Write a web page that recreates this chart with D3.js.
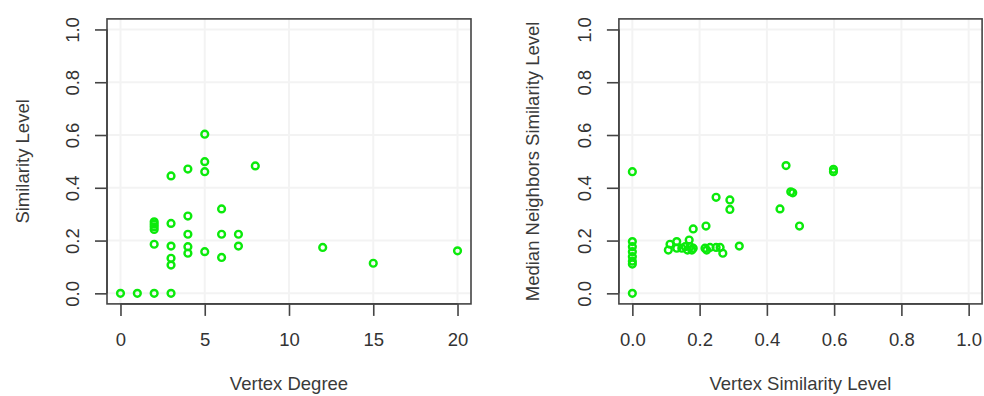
<!DOCTYPE html>
<html><head><meta charset="utf-8">
<script src="https://cdn.jsdelivr.net/npm/d3@7"></script>
<style>body{margin:0;background:#fff}svg{display:block}text{font-family:"Liberation Sans",Arial,sans-serif;fill:#333}</style>
</head><body>
<svg id="c" width="984" height="396"></svg>
<script>
// Left panel: vertex degree vs similarity level
const degreeX = [0,1,2,3, 2,2,2,2,2, 3,3,3,3,3, 4,4,4,4,4, 5,5,5,5, 6,6,6, 7,7, 8, 12, 15, 20];
const degreeY = [0,0,0,0, 0.271,0.262,0.252,0.242,0.186, 0.445,0.265,0.179,0.133,0.107, 0.471,0.293,0.224,0.177,0.152, 0.603,0.499,0.461,0.158, 0.320,0.224,0.136, 0.224,0.179, 0.483, 0.174, 0.114, 0.161];
// Right panel: vertex similarity vs median neighbours similarity
const simX = [0,0,0,0,0,0,0,0,
  0.107,0.112,0.132,0.132,0.147,0.157,0.164,0.169,0.172,0.177,0.181,0.181,
  0.219,0.216,0.221,0.231,0.249,0.261,0.269,0.318,
  0.249,0.290,0.290,0.439,0.457,0.471,0.477,0.497,0.598,0.598];
const simY = [0.461,0.196,0.177,0.158,0.139,0.122,0.111,0,
  0.164,0.186,0.196,0.171,0.171,0.177,0.164,0.202,0.177,0.164,0.171,0.244,
  0.255,0.171,0.164,0.174,0.174,0.174,0.152,0.179,
  0.364,0.354,0.318,0.320,0.484,0.385,0.381,0.255,0.470,0.461];
const leftTicksX = [0,5,10,15,20];
const rightTicksX = [0,0.2,0.4,0.6,0.8,1.0];
const ticksY = [0,0.2,0.4,0.6,0.8,1.0];

const svg = d3.select("#c");
svg.append("rect").attr("width",984).attr("height",396).attr("fill","#fff");

function panel(o){
  const x = d3.scaleLinear().domain(o.xdom).range([o.left,o.right]);
  const y = d3.scaleLinear().domain([-0.04,1.04]).range([o.bottom,o.top]);
  const g = svg.append("g");
  // faint grid
  g.selectAll(".gx").data(o.xticks).join("line")
    .attr("x1",d=>x(d)).attr("x2",d=>x(d)).attr("y1",o.top).attr("y2",o.bottom)
    .attr("stroke","#f3f3f3").attr("stroke-width",2);
  g.selectAll(".gy").data(ticksY).join("line")
    .attr("y1",d=>y(d)).attr("y2",d=>y(d)).attr("x1",o.left).attr("x2",o.right)
    .attr("stroke","#f3f3f3").attr("stroke-width",2);
  // points
  g.selectAll("circle").data(o.xs.map((v,i)=>[v,o.ys[i]])).join("circle")
    .attr("cx",d=>x(d[0])).attr("cy",d=>y(d[1])).attr("r",3.4)
    .attr("fill","none").attr("stroke","#0bea0b").attr("stroke-width",2.4);
  // box
  g.append("rect").attr("x",o.left).attr("y",o.top).attr("width",o.right-o.left).attr("height",o.bottom-o.top)
    .attr("fill","none").attr("stroke","#444").attr("stroke-width",1.6);
  // axes
  const fmt = o.xfmt;
  const ax = d3.axisBottom(x).tickValues(o.xticks).tickSize(12).tickPadding(6).tickFormat(fmt);
  const gx = g.append("g").attr("transform",`translate(0,${o.bottom})`).call(ax);
  gx.select(".domain").attr("d",`M${x(o.xticks[0])},0H${x(o.xticks[o.xticks.length-1])}`).attr("stroke","#444").attr("stroke-width",1.6);
  gx.selectAll(".tick line").attr("stroke","#444").attr("stroke-width",1.6);
  gx.selectAll(".tick text").attr("y",null).attr("dy",null).attr("transform","translate(0,42)").attr("font-size",18.5).style("fill","#333");
  const ay = d3.axisLeft(y).tickValues(ticksY).tickSize(12).tickFormat(d3.format(".1f"));
  const gy = g.append("g").attr("transform",`translate(${o.left},0)`).call(ay);
  gy.select(".domain").attr("d",`M0,${y(0)}V${y(1)}`).attr("stroke","#444").attr("stroke-width",1.6);
  gy.selectAll(".tick line").attr("stroke","#444").attr("stroke-width",1.6);
  gy.selectAll(".tick text").attr("x",null).attr("dy",null).attr("text-anchor","middle")
    .attr("transform","translate(-28,0) rotate(-90)").attr("font-size",18.5).style("fill","#333");
  // titles
  svg.append("text").attr("x",(o.left+o.right)/2).attr("y",390).attr("text-anchor","middle")
    .attr("font-size",18.5).style("fill","#3a3a3a").text(o.xtitle);
  svg.append("text").attr("transform",`translate(${o.ytx},${(o.top+o.bottom)/2}) rotate(-90)`)
    .attr("text-anchor","middle").attr("font-size",18.5).style("fill","#3a3a3a").text(o.ytitle);
}

panel({left:107,right:471,top:18.9,bottom:303.9,xdom:[-0.8,20.8],xticks:leftTicksX,xfmt:d3.format("d"),
  xs:degreeX,ys:degreeY,xtitle:"Vertex Degree",ytitle:"Similarity Level",ytx:29});
panel({left:618.9,right:982.1,top:18.9,bottom:303.9,xdom:[-0.04,1.04],xticks:rightTicksX,xfmt:d3.format(".1f"),
  xs:simX,ys:simY,xtitle:"Vertex Similarity Level",ytitle:"Median Neighbors Similarity Level",ytx:539});
</script>
</body></html>
